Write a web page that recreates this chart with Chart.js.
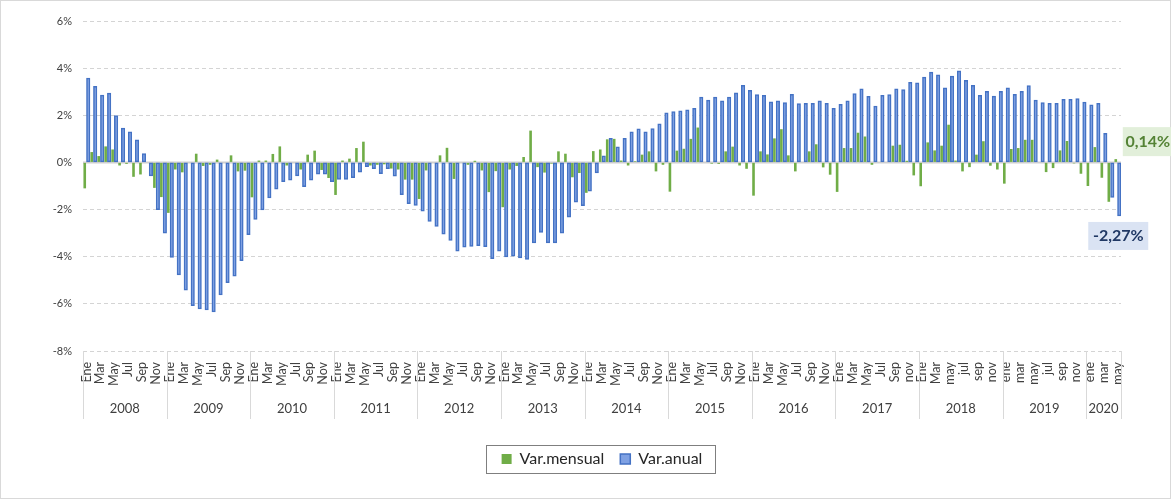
<!DOCTYPE html>
<html>
<head>
<meta charset="utf-8">
<script src="https://cdn.jsdelivr.net/npm/chart.js@4.4.1/dist/chart.umd.min.js"></script>
<style>
  html, body { margin: 0; padding: 0; background: #fff; }
  #chart { display: block; }
</style>
</head>
<body>
<canvas id="chart" width="1171" height="499"></canvas>
<script>
/* Var. mensual / Var. anual, Ene 2008 - May 2020 */

const YEARS = ["2008", "2009", "2010", "2011", "2012", "2013", "2014",
  "2015", "2016", "2017", "2018", "2019", "2020"];

// visible month ticks (every other month), per year
const TICKS_STD  = ["Ene", "Mar", "May", "Jul", "Sep", "Nov"];
const TICKS_2017 = ["Ene", "Mar", "May", "Jul", "Sep", "nov"];
const TICKS_2018 = ["Ene", "Mar", "may", "jul", "sep", "nov"];
const TICKS_2019 = ["ene", "mar", "may", "jul", "sep", "nov"];
const TICKS_2020 = ["ene", "mar", "may"];

const VAR_MENSUAL = [
  -1.10, 0.44, 0.27, 0.68, 0.55, -0.13, -0.06, -0.61, -0.51, 0.00, -1.08, -1.47,
  -2.14, -0.30, -0.42, 0.00, 0.37, -0.15, -0.10, 0.12, 0.00, 0.30, -0.38, -0.35,
  -1.48, 0.08, 0.08, 0.36, 0.68, -0.13, 0.00, -0.30, 0.33, 0.50, -0.32, -0.66,
  -1.38, 0.08, 0.16, 0.61, 0.88, -0.13, -0.10, -0.08, -0.26, -0.30, -0.73, -0.73,
  -1.55, -0.34, 0.00, 0.30, 0.62, -0.70, 0.00, -0.10, 0.07, -0.34, -1.26, -0.37,
  -1.90, -0.30, -0.15, 0.23, 1.35, -0.20, -0.43, -0.05, 0.47, 0.37, -0.63, -0.45,
  -1.29, 0.48, 0.55, 0.98, 1.00, 0.08, -0.13, 0.05, 0.33, 0.47, -0.38, -0.10,
  -1.24, 0.50, 0.58, 1.00, 1.48, 0.00, -0.05, -0.06, 0.47, 0.67, -0.13, -0.27,
  -1.41, 0.47, 0.34, 1.02, 1.41, 0.30, -0.38, 0.00, 0.47, 0.77, -0.21, -0.52,
  -1.25, 0.61, 0.61, 1.26, 1.10, -0.10, 0.00, 0.00, 0.71, 0.75, 0.07, -0.55,
  -1.01, 0.85, 0.51, 0.71, 1.60, 0.08, -0.38, -0.20, 0.33, 0.90, -0.14, -0.30,
  -0.90, 0.57, 0.61, 0.96, 0.96, 0.00, -0.41, -0.24, 0.51, 0.91, -0.04, -0.48,
  -1.00, 0.65, -0.65, -1.67, 0.14,
];

const VAR_ANUAL = [
  3.58, 3.23, 2.86, 2.94, 1.99, 1.46, 1.30, 0.96, 0.38, -0.57, -2.00, -3.00,
  -4.03, -4.77, -5.42, -6.08, -6.22, -6.26, -6.34, -5.62, -5.10, -4.83, -4.17, -3.07,
  -2.42, -2.01, -1.51, -1.13, -0.82, -0.75, -0.57, -1.03, -0.75, -0.50, -0.50, -0.82,
  -0.72, -0.72, -0.65, -0.41, -0.18, -0.26, -0.48, -0.26, -0.58, -1.37, -1.75, -1.82,
  -2.07, -2.50, -2.72, -3.04, -3.31, -3.77, -3.60, -3.56, -3.53, -3.57, -4.08, -3.77,
  -4.01, -3.98, -4.05, -4.11, -3.42, -2.97, -3.42, -3.42, -3.00, -2.32, -1.69, -1.83,
  -1.22, -0.44, 0.28, 1.02, 0.66, 1.02, 1.30, 1.43, 1.30, 1.44, 1.64, 2.10,
  2.16, 2.19, 2.23, 2.30, 2.77, 2.64, 2.77, 2.61, 2.77, 2.95, 3.27, 3.06,
  2.88, 2.85, 2.57, 2.61, 2.54, 2.89, 2.50, 2.51, 2.51, 2.61, 2.51, 2.30,
  2.47, 2.61, 2.92, 3.12, 2.80, 2.39, 2.85, 2.88, 3.12, 3.09, 3.40, 3.38,
  3.62, 3.83, 3.72, 3.16, 3.66, 3.89, 3.48, 3.27, 2.85, 3.02, 2.81, 3.02,
  3.16, 2.89, 3.02, 3.26, 2.64, 2.54, 2.51, 2.51, 2.68, 2.68, 2.71, 2.56,
  2.44, 2.51, 1.23, -1.48, -2.27,
];

const Y_TICKS = [-8, -6, -4, -2, 0, 2, 4, 6];

const FONT = "Lato, 'Liberation Sans', sans-serif";
const TXT = "#404040";

/* ── category labels ───────────────────────────────── */
const tickSetFor = (y) =>
  y === "2017" ? TICKS_2017 : y === "2018" ? TICKS_2018 :
  y === "2019" ? TICKS_2019 : y === "2020" ? TICKS_2020 : TICKS_STD;

const monthsInYear = [];
const labels = [];
YEARS.forEach((y, yi) => {
  const n = yi === YEARS.length - 1 ? VAR_ANUAL.length - yi * 12 : 12;
  monthsInYear.push(n);
  const set = tickSetFor(y);
  for (let m = 0; m < n; m++) labels.push(m % 2 === 0 ? set[m / 2] : "");
});

const fmtPct = (v) => v.toFixed(2).replace(".", ",") + "%";

/* ── plugins ───────────────────────────────────────── */
const frame = {
  id: "frame",
  beforeDraw(chart) {
    const { ctx, width, height } = chart;
    ctx.save();
    ctx.fillStyle = "#fff";
    ctx.fillRect(0, 0, width, height);
    ctx.strokeStyle = "#d9d9d9";
    ctx.lineWidth = 1;
    ctx.strokeRect(0.5, 0.5, width - 1, height - 1);
    ctx.restore();
  },
};

const zeroLine = {
  id: "zeroLine",
  beforeDatasetsDraw(chart) {
    const { ctx, chartArea: a, scales: { y } } = chart;
    const py = Math.round(y.getPixelForValue(0)) + 0.5;
    ctx.save();
    ctx.strokeStyle = "#d0d0d0";
    ctx.lineWidth = 2;
    ctx.beginPath();
    ctx.moveTo(a.left, py);
    ctx.lineTo(a.right, py);
    ctx.stroke();
    ctx.restore();
  },
};

// second level of the category axis: year separators + year names
const yearAxis = {
  id: "yearAxis",
  afterDraw(chart) {
    const { ctx, chartArea: a, scales: { x } } = chart;
    const half = (x.getPixelForValue(1) - x.getPixelForValue(0)) / 2;
    const bottom = a.bottom + 68;
    ctx.save();
    ctx.strokeStyle = "#d9d9d9";
    ctx.lineWidth = 1;
    ctx.fillStyle = TXT;
    ctx.font = `13px ${FONT}`;
    ctx.textAlign = "center";
    ctx.textBaseline = "middle";
    let start = 0;
    YEARS.forEach((yr, yi) => {
      const n = monthsInYear[yi];
      const l = x.getPixelForValue(start) - half;
      const r = x.getPixelForValue(start + n - 1) + half;
      [l, r].forEach((px) => {
        const sx = Math.round(px) + 0.5;
        ctx.beginPath();
        ctx.moveTo(sx, a.bottom);
        ctx.lineTo(sx, bottom);
        ctx.stroke();
      });
      ctx.fillText(yr, (l + r) / 2, a.bottom + 58);
      start += n;
    });
    ctx.restore();
  },
};

// value boxes on the last month
const lastLabels = {
  id: "lastLabels",
  afterDatasetsDraw(chart) {
    const { ctx } = chart;
    const last = VAR_ANUAL.length - 1;
    const gBar = chart.getDatasetMeta(0).data[last];
    const bBar = chart.getDatasetMeta(1).data[last];
    ctx.save();
    ctx.font = `bold 16px ${FONT}`;
    ctx.textAlign = "center";
    ctx.textBaseline = "middle";

    // 0,14%
    let cx = gBar.x + 32, cy = gBar.y - 18;
    ctx.fillStyle = "#e2efda";
    ctx.fillRect(cx - 25, cy - 14, 50, 29);
    ctx.fillStyle = "#548235";
    ctx.fillText(fmtPct(VAR_MENSUAL[last]), cx, cy + 1);

    // -2,27%
    cx = bBar.x - 1; cy = bBar.y + 19;
    ctx.fillStyle = "#dae3f3";
    ctx.fillRect(cx - 30, cy - 13, 60, 28);
    ctx.fillStyle = "#203864";
    ctx.fillText(fmtPct(VAR_ANUAL[last]), cx, cy + 1);
    ctx.restore();
  },
};

const legendBox = {
  id: "legendBox",
  afterDraw(chart) {
    const boxes = chart.legend && chart.legend.legendHitBoxes;
    if (!boxes || !boxes.length) return;
    const l = Math.min(...boxes.map((b) => b.left)) - 16;
    const r = Math.max(...boxes.map((b) => b.left + b.width)) + 12;
    const t = Math.min(...boxes.map((b) => b.top)) - 6;
    const btm = Math.max(...boxes.map((b) => b.top + b.height)) + 6;
    const { ctx } = chart;
    ctx.save();
    ctx.strokeStyle = "#7f7f7f";
    ctx.lineWidth = 1;
    ctx.strokeRect(Math.round(l) + 0.5, Math.round(t) + 0.5, Math.round(r - l), Math.round(btm - t));
    ctx.restore();
  },
};

/* ── chart ─────────────────────────────────────────── */
new Chart(document.getElementById("chart"), {
  type: "bar",
  data: {
    labels,
    datasets: [
      {
        label: "Var.mensual",
        data: VAR_MENSUAL,
        backgroundColor: "#70ad47",
        borderWidth: 0,
        barPercentage: 0.75,
        categoryPercentage: 1.0,
      },
      {
        label: "Var.anual",
        data: VAR_ANUAL,
        backgroundColor: "#7fa1e3",
        borderColor: "#4472c4",
        borderWidth: 1.5,
        borderSkipped: false,
        barPercentage: 1.0,
        categoryPercentage: 1.0,
      },
    ],
  },
  options: {
    responsive: false,
    animation: false,
    layout: { padding: { top: 21, right: 50, bottom: 22, left: 0 } },
    plugins: {
      tooltip: { enabled: false },
      legend: {
        position: "bottom",
        fullSize: false,
        labels: {
          color: "#262626",
          font: { family: FONT, size: 16 },
          boxWidth: 10,
          boxHeight: 10,
          padding: 16,
        },
      },
    },
    scales: {
      x: {
        grid: { display: false },
        border: { display: false },
        afterFit: (s) => { s.height = 84; },
        ticks: {
          autoSkip: false,
          maxRotation: 90,
          minRotation: 90,
          padding: 3,
          color: TXT,
          font: { family: FONT, size: 12.5 },
        },
      },
      y: {
        min: Y_TICKS[0],
        max: Y_TICKS[Y_TICKS.length - 1],
        afterFit: (s) => { s.width = 83; },
        afterBuildTicks: (s) => { s.ticks = Y_TICKS.map((v) => ({ value: v })); },
        border: { display: false, dash: [4, 3] },
        grid: { color: "#d4d4d4", lineWidth: 1, drawTicks: false },
        ticks: {
          padding: 11,
          color: TXT,
          font: { family: FONT, size: 11 },
          callback: (v) => v + "%",
        },
      },
    },
  },
  plugins: [frame, zeroLine, yearAxis, lastLabels, legendBox],
});
</script>
</body>
</html>
